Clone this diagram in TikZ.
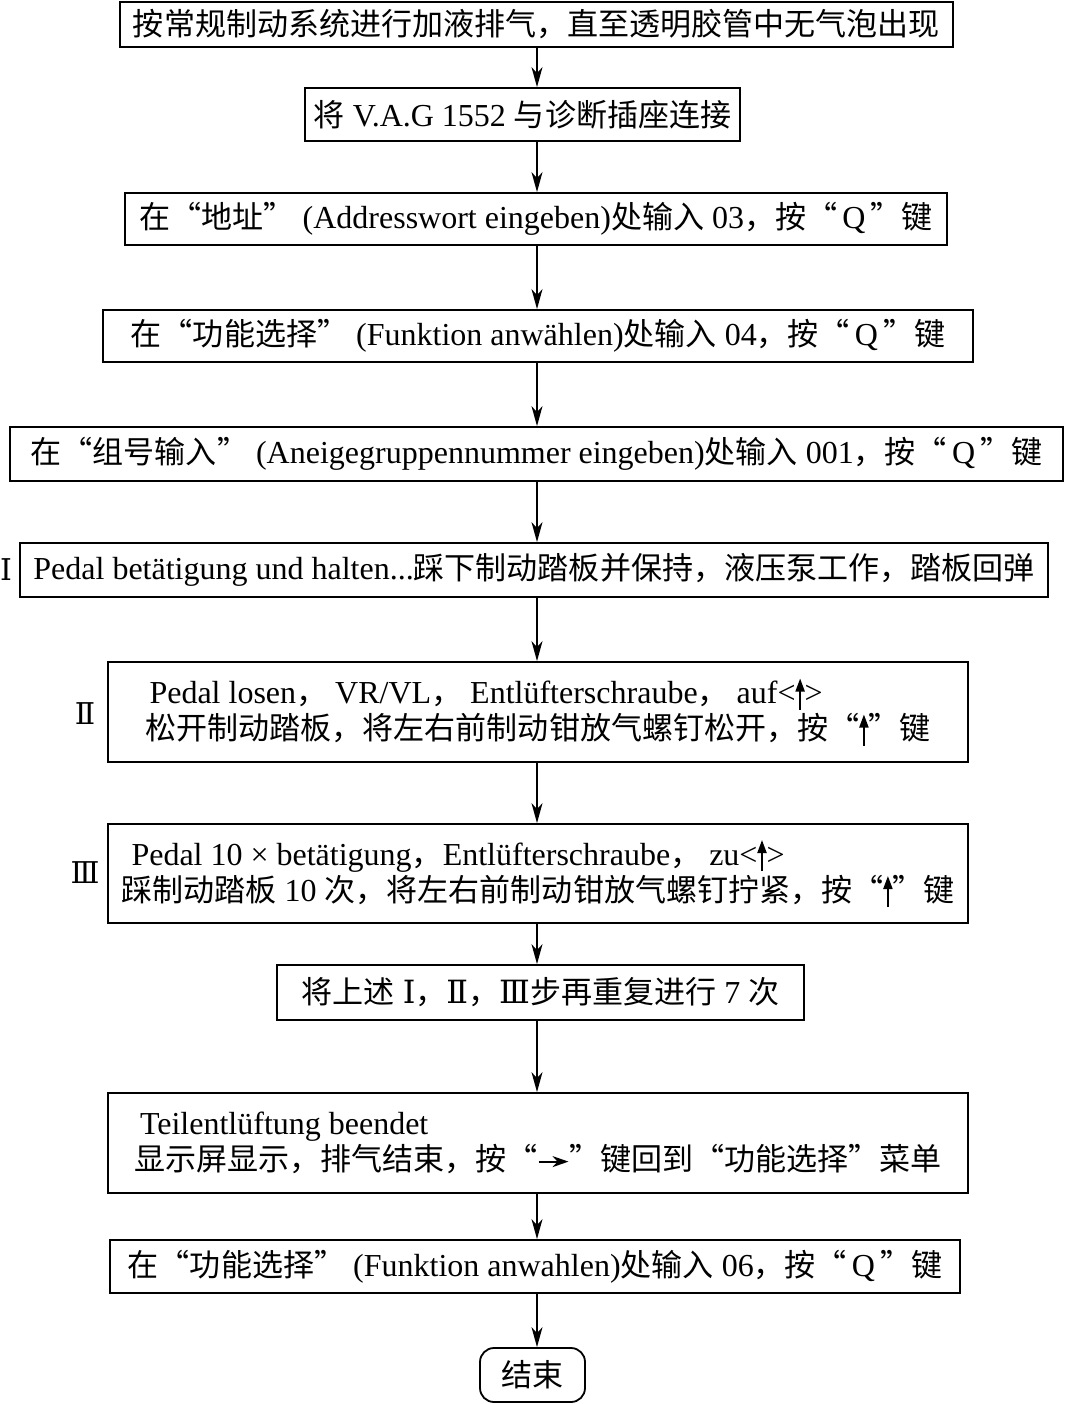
\documentclass[tikz,border=0pt]{standalone}
\usepackage{fontspec}
\setmainfont{Liberation Serif}
\newfontfamily\cjkfont[Scale=0.97]{Noto Sans CJK SC}
\newfontfamily\romfont{DejaVu Serif}
\usetikzlibrary{arrows.meta}
\newcommand\zhtext[1]{{\cjkfont #1}}
\newcommand\qq{\hspace{5pt}}
\newcommand\uparr{\tikz[baseline=0pt]{\draw[line width=2pt,-{Triangle[length=13pt,width=9pt]}] (0pt,-6pt) -- (0pt,25pt);}}
\newcommand\rarr{\tikz[baseline=-9pt]{\draw[line width=2pt,-{Stealth[length=16pt,width=11pt,inset=5pt]}] (0pt,0pt) -- (30pt,0pt);}}
\tikzset{
  box/.style={draw, line width=1.8pt, inner sep=0pt, align=center},
  box2/.style={draw, line width=1.8pt, inner sep=0pt, align=left},
  lab/.style={inner sep=0pt, font=\romfont\fontsize{30}{34}\selectfont},
  arr/.style={line width=1.5pt, -{Stealth[length=20pt,width=11pt,inset=6pt]}},
}
\begin{document}
\begin{tikzpicture}[x=1pt,y=-1pt, every node/.style={font=\fontsize{32}{36}\selectfont}]
\useasboundingbox (0,0) rectangle (1065,1404);
\coordinate (axis) at (537,0);
\node[box, minimum width=833pt, minimum height=45pt] (n1) at (536.5,24.5) {\zhtext{按常规制动系统进行加液排气，直至透明胶管中无气泡出现}};
\node[box, minimum width=435pt, minimum height=53pt] (n2) at (522.5,114.5) {\zhtext{将} V.A.G 1552 \zhtext{与诊断插座连接}};
\node[box, minimum width=822pt, minimum height=52pt] (n3) at (536,219) {\zhtext{在“地址”} (Addresswort eingeben)\zhtext{处输入} 03\zhtext{，按“}\qq Q\qq\zhtext{”键}};
\node[box, minimum width=870pt, minimum height=52pt] (n4) at (538,336) {\zhtext{在“功能选择”} (Funktion anwählen)\zhtext{处输入} 04\zhtext{，按“}\qq Q\qq\zhtext{”键}};
\node[box, minimum width=1053pt, minimum height=54pt] (n5) at (536.5,454) {\zhtext{在“组号输入”} (Aneigegruppennummer eingeben)\zhtext{处输入} 001\zhtext{，按“}\qq Q\qq\zhtext{”键}};
\node[box, minimum width=1028pt, minimum height=54pt] (n6) at (534,570) {Pedal betätigung und halten...\zhtext{踩下制动踏板并保持，液压泵工作，踏板回弹}};
\node[box2, minimum width=860pt, minimum height=100pt] (n7) at (538,712) {\hspace*{4pt}Pedal losen\zhtext{，} VR/VL\zhtext{，} Entlüfterschraube\zhtext{，} auf<\uparr>\\ \zhtext{松开制动踏板，将左右前制动钳放气螺钉松开，按“}\uparr\zhtext{”键}};
\node[box2, minimum width=860pt, minimum height=99pt] (n8) at (538,873.5) {\hspace*{10pt}Pedal 10 × betätigung\zhtext{，}Entlüfterschraube\zhtext{，} zu<\uparr>\\ \zhtext{踩制动踏板} 10 \zhtext{次，将左右前制动钳放气螺钉拧紧，按“}\uparr\zhtext{”键}};
\node[box, minimum width=527pt, minimum height=55pt] (n9) at (540.5,992.5) {\zhtext{将上述} {\romfont Ⅰ}\zhtext{，}{\romfont Ⅱ}\zhtext{，}{\romfont Ⅲ}\zhtext{步再重复进行} 7 \zhtext{次}};
\node[box2, minimum width=860pt, minimum height=100pt] (n10) at (538,1143) {\hspace*{6pt}Teilentlüftung beendet\\ \zhtext{显示屏显示，排气结束，按“}\rarr\zhtext{”键回到“功能选择”菜单}};
\node[box, minimum width=850pt, minimum height=53pt] (n11) at (535,1266.5) {\zhtext{在“功能选择”} (Funktion anwahlen)\zhtext{处输入} 06\zhtext{，按“}\qq Q\qq\zhtext{”键}};
\node[box, rounded corners=14pt, minimum width=105pt, minimum height=54pt] (n12) at (532.5,1375) {\zhtext{结束}};
\node[lab] (l1) at (6,570) {I};
\node[lab] (l2) at (85,714) {Ⅱ};
\node[lab] (l3) at (85,873) {Ⅲ};
\foreach \a/\b in {n1/n2,n2/n3,n3/n4,n4/n5,n5/n6,n6/n7,n7/n8,n8/n9,n9/n10,n10/n11,n11/n12}
  \draw[arr] (\a.south -| axis) -- (\b.north -| axis);
\end{tikzpicture}
\end{document}
